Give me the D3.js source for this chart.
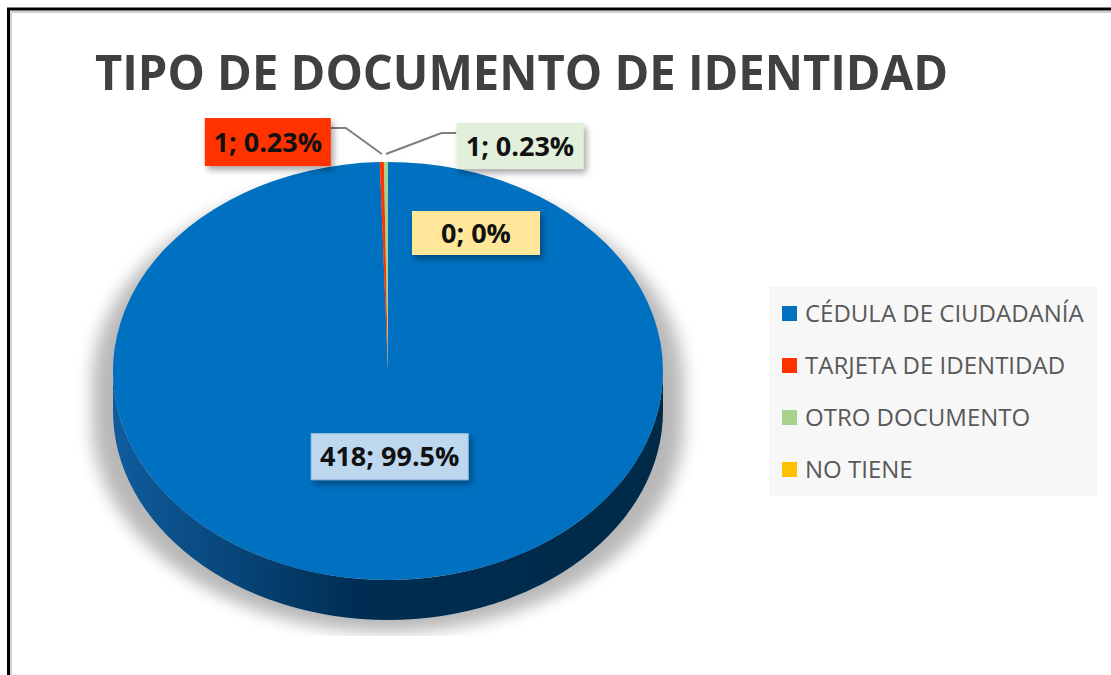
<!DOCTYPE html>
<html lang="es">
<head>
<meta charset="utf-8">
<style>
    body { margin: 0; background: #fff; }
    svg { display: block; font-family: "Open Sans", sans-serif; }
</style>
</head>
<body>
<div id="chart"></div>
<script src="https://d3js.org/d3.v7.min.js"></script>
<script>
    // data
    var title = "TIPO DE DOCUMENTO DE IDENTIDAD";
    var categories = ["CÉDULA DE CIUDADANÍA", "TARJETA DE IDENTIDAD", "OTRO DOCUMENTO", "NO TIENE"];
    var counts = [418, 1, 1, 0];
    var percents = ["99.5%", "0.23%", "0.23%", "0%"];

    // styles
    var colors = ["#0070C0", "#FF3300", "#A9D18E", "#FFC000"];
    var labelFills = ["#BDD7EE", "#FF3300", "#E2EFDA", "#FFE699"];
    var sideColors = ["url(#sideGrad)", "#a32000", "#6f8f5a", "#a37b00"];

    // layout
    var W = 1111, H = 675;
    var cx = 388, cy = 371, rx = 275, ry = 209, depth = 40;
    // label box: [width, height], and where it sits (inside = along radius, else offset from rim)
    var labelBox = [[157, 46], [126, 48], [127, 46], [128, 44]];
    var labelPlace = [{ k: 0.41 }, { dx: -114, dy: -20 }, { dx: 134, dy: -16 }, { dx: 88, dy: 71 }];
    var hasLeader = [false, true, true, false];

    var svg = d3.select("#chart").append("svg")
        .attr("width", W).attr("height", H);

    var defs = svg.append("defs");
    var grad = defs.append("linearGradient").attr("id", "sideGrad")
        .attr("gradientUnits", "userSpaceOnUse")
        .attr("x1", cx - rx).attr("x2", cx + rx).attr("y1", 0).attr("y2", 0);
    grad.append("stop").attr("offset", 0).attr("stop-color", "#0f5c9e");
    grad.append("stop").attr("offset", 0.45).attr("stop-color", "#002d52");
    grad.append("stop").attr("offset", 1).attr("stop-color", "#002a48");

    defs.append("filter").attr("id", "blur")
        .attr("x", "-20%").attr("y", "-20%").attr("width", "140%").attr("height", "140%")
        .append("feGaussianBlur").attr("stdDeviation", 8);

    var ds = defs.append("filter").attr("id", "boxShadow")
        .attr("x", "-20%").attr("y", "-20%").attr("width", "150%").attr("height", "160%");
    ds.append("feDropShadow").attr("dx", 3).attr("dy", 4).attr("stdDeviation", 3)
        .attr("flood-color", "#000").attr("flood-opacity", 0.35);

    defs.append("clipPath").attr("id", "plotClip")
        .append("rect").attr("x", 0).attr("y", 0).attr("width", W).attr("height", 636);

    // frame
    svg.append("line").attr("x1", 11).attr("x2", W).attr("y1", 12).attr("y2", 12)
        .attr("stroke", "#d0d0d0").attr("stroke-width", 2);
    svg.append("line").attr("x1", 11).attr("x2", 11).attr("y1", 12).attr("y2", H)
        .attr("stroke", "#d0d0d0").attr("stroke-width", 2);
    svg.append("line").attr("x1", 7).attr("x2", W).attr("y1", 9).attr("y2", 9)
        .attr("stroke", "#000").attr("stroke-width", 3);
    svg.append("line").attr("x1", 8.5).attr("x2", 8.5).attr("y1", 8).attr("y2", H)
        .attr("stroke", "#000").attr("stroke-width", 3);

    // title
    svg.append("text")
        .attr("x", 95).attr("y", 90)
        .attr("textLength", 853).attr("lengthAdjust", "spacingAndGlyphs")
        .style("font-size", "49px").style("font-weight", 700)
        .style("fill", "#404040")
        .text(title);

    // helpers for the tilted pie
    function pt(a, dy) {
        return [cx + rx * Math.sin(a), cy - ry * Math.cos(a) + (dy || 0)];
    }
    function topPath(d) {
        if (d.endAngle - d.startAngle <= 0) return "";
        var p0 = pt(d.startAngle), p1 = pt(d.endAngle);
        var large = (d.endAngle - d.startAngle) > Math.PI ? 1 : 0;
        return "M" + cx + "," + cy + "L" + p0 + "A" + rx + "," + ry + " 0 " + large + " 1 " + p1 + "Z";
    }
    function sidePath(d) {
        var a = Math.max(d.startAngle, Math.PI / 2), b = Math.min(d.endAngle, 3 * Math.PI / 2);
        if (b <= a) return "";
        return "M" + pt(a) + "A" + rx + "," + ry + " 0 0 1 " + pt(b) +
            "L" + pt(b, depth) + "A" + rx + "," + ry + " 0 0 0 " + pt(a, depth) + "Z";
    }

    var pie = d3.pie().sort(null).value(function (d) { return d; });
    var arcs = pie(counts);

    var plot = svg.append("g").attr("clip-path", "url(#plotClip)");

    // soft shadow under the pie
    var outline = "M" + pt(-Math.PI / 2) + "A" + rx + "," + ry + " 0 0 1 " + pt(Math.PI / 2) +
        "L" + pt(Math.PI / 2, depth) + "A" + rx + "," + ry + " 0 0 1 " + pt(3 * Math.PI / 2, depth) + "Z";
    plot.append("path")
        .attr("d", outline)
        .attr("transform", "translate(" + cx + "," + (cy + 12) + ") scale(1.075,1) translate(" + (-cx) + "," + (-cy) + ")")
        .attr("fill", "#000").attr("opacity", 0.28)
        .attr("filter", "url(#blur)");

    // sides
    plot.selectAll(".side")
        .data(arcs)
        .enter()
        .append("path")
        .attr("class", "side")
        .attr("d", sidePath)
        .attr("fill", function (d, i) { return sideColors[i]; });

    // top faces
    plot.selectAll(".slice")
        .data(arcs)
        .enter()
        .append("path")
        .attr("class", "slice")
        .attr("d", topPath)
        .attr("fill", function (d, i) { return colors[i]; });

    // data labels
    var labels = svg.append("g");
    arcs.forEach(function (d, i) {
        var mid = (d.startAngle + d.endAngle) / 2;
        var rim = pt(mid);
        var c;
        if (labelPlace[i].k !== undefined) {
            c = [cx + labelPlace[i].k * (rim[0] - cx), cy + labelPlace[i].k * (rim[1] - cy)];
        } else {
            c = [rim[0] + labelPlace[i].dx, rim[1] + labelPlace[i].dy];
        }
        var bw = labelBox[i][0], bh = labelBox[i][1];
        var x0 = c[0] - bw / 2, y0 = c[1] - bh / 2;

        if (hasLeader[i]) {
            var left = c[0] < rim[0];
            var sx = left ? x0 + bw : x0;
            var sy = y0 + 10;
            var ex = left ? sx + 15 : sx - 15;
            labels.append("path")
                .attr("d", "M" + sx + "," + sy + "L" + ex + "," + sy + "L" + rim[0] + "," + (rim[1] - 8))
                .attr("fill", "none").attr("stroke", "#7f7f7f").attr("stroke-width", 2);
        }

        labels.append("rect")
            .attr("x", x0).attr("y", y0).attr("width", bw).attr("height", bh)
            .attr("fill", labelFills[i])
            .attr("stroke", i === 0 ? "#9dc3e6" : "none")
            .attr("filter", "url(#boxShadow)");

        labels.append("text")
            .attr("x", c[0]).attr("y", c[1]).attr("dy", "0.36em")
            .attr("text-anchor", "middle")
            .style("font-size", "27px").style("font-weight", 700)
            .style("fill", "#111")
            .text(counts[i] + "; " + percents[i]);
    });

    // legend
    var legend = svg.append("g");
    legend.append("rect")
        .attr("x", 769).attr("y", 287).attr("width", 328).attr("height", 209)
        .attr("fill", "#f7f7f7");
    var item = legend.selectAll(".item")
        .data(categories)
        .enter()
        .append("g")
        .attr("transform", function (d, i) { return "translate(782," + (314 + i * 52) + ")"; });
    item.append("rect")
        .attr("x", 0).attr("y", -8).attr("width", 15).attr("height", 15)
        .attr("fill", function (d, i) { return colors[i]; });
    item.append("text")
        .attr("x", 23).attr("y", 8)
        .style("font-size", "24px")
        .style("fill", "#595959")
        .text(function (d) { return d; });
</script>
</body>
</html>
